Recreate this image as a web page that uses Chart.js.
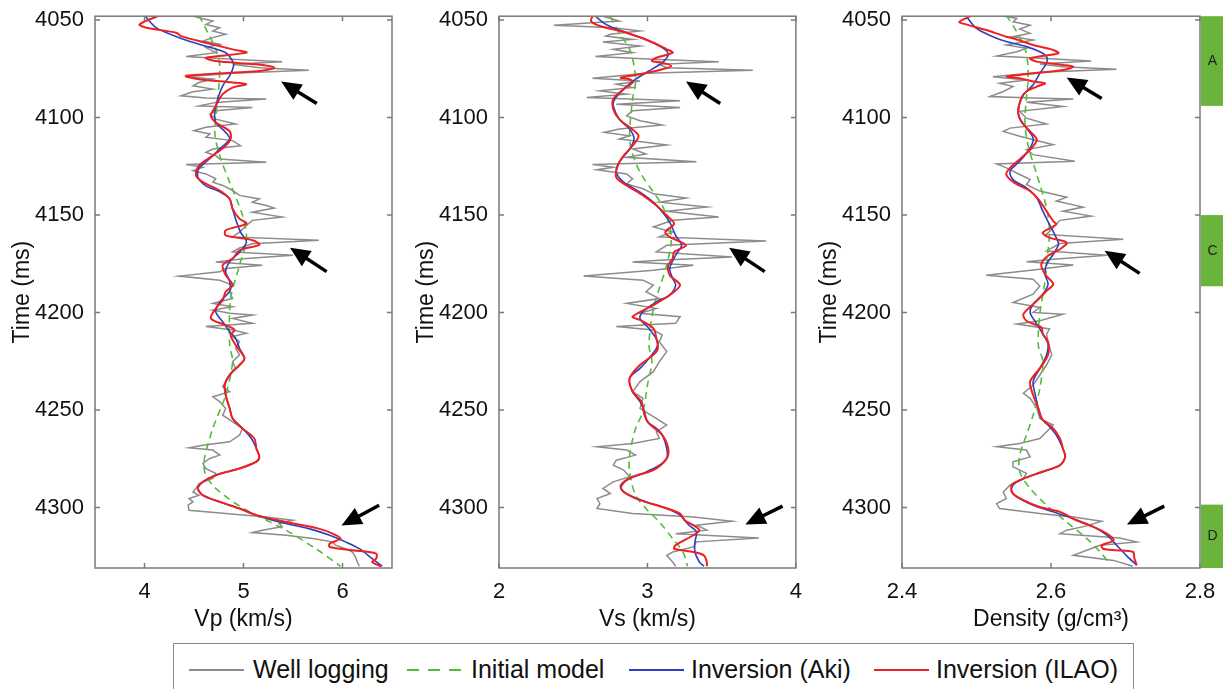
<!DOCTYPE html>
<html>
<head>
<meta charset="utf-8">
<script src="https://cdn.jsdelivr.net/npm/chart.js@4"></script>
<style>
  body { margin: 0; background: #fff; width: 1223px; height: 689px; overflow: hidden; position: relative;
         font-family: 'Liberation Sans', Arial, Helvetica, sans-serif; }
  .panel { position: absolute; top: 0; height: 640px; }
  #legend { position: absolute; left: 173px; top: 643px; width: 961px; height: 70px;
            border: 1.5px solid #8a8a8a; box-sizing: border-box; background: #fff; }
  #legend span { position: absolute; top: 13px; font-size: 25px; line-height: 25px; color: #111; white-space: nowrap; }
  #legend svg { position: absolute; left: 0; top: 0; }
</style>
</head>
<body>
<div class="panel" style="left:0;width:400px"><canvas id="vp"></canvas></div>
<div class="panel" style="left:404px;width:401px"><canvas id="vs"></canvas></div>
<div class="panel" style="left:807px;width:416px"><canvas id="rho"></canvas></div>

<div id="legend">
  <svg width="958" height="60">
    <line x1="15" y1="26" x2="70" y2="26" stroke="#8c8c8c" stroke-width="2"/>
    <line x1="233" y1="26" x2="289" y2="26" stroke="#52bd3a" stroke-width="2" stroke-dasharray="12,9"/>
    <line x1="455" y1="26" x2="510" y2="26" stroke="#2b3fc0" stroke-width="2"/>
    <line x1="700" y1="26" x2="755" y2="26" stroke="#ee2020" stroke-width="2"/>
  </svg>
  <span style="left:79px">Well logging</span>
  <span style="left:297px">Initial model</span>
  <span style="left:517px">Inversion (Aki)</span>
  <span style="left:762px">Inversion (ILAO)</span>
</div>

<script>
// ---- axes ----
const timeTicks = [4050, 4100, 4150, 4200, 4250, 4300];
const timeRange = [4048, 4331];
const vpTicks = [4, 5, 6];
const vpRange = [3.5, 6.5];
const vsTicks = [2, 3, 4];
const vsRange = [2, 4];
const rhoTicks = [2.4, 2.6, 2.8];
const rhoRange = [2.4, 2.8];

// ---- Vp (km/s) ----
const vpWellT = [4047.6,4048.8,4050.5,4052.2,4053.9,4055.6,4057.3,4059.0,4060.7,4062.4,
  4064.1,4066.7,4068.7,4070.1,4071.3,4072.7,4074.4,4075.7,4077.3,4079.0,
  4080.3,4082.0,4083.7,4085.4,4086.8,4088.8,4089.9,4090.5,4092.2,4094.0,
  4094.8,4096.5,4098.2,4100.8,4103.3,4105.0,4106.7,4108.4,4110.1,4111.8,
  4114.4,4116.1,4117.8,4119.5,4121.2,4122.9,4124.1,4125.5,4127.2,4128.9,
  4131.4,4133.1,4134.8,4137.4,4139.9,4141.7,4143.4,4145.1,4146.4,4148.5,
  4151.0,4152.7,4155.3,4158.7,4161.2,4162.9,4164.7,4166.9,4168.9,4170.6,
  4172.3,4174.0,4175.7,4177.4,4179.1,4181.3,4183.4,4185.9,4189.3,4192.8,
  4195.3,4197.0,4198.7,4200.4,4201.3,4203.0,4205.5,4207.2,4208.9,4210.6,
  4212.3,4214.9,4218.3,4221.7,4225.2,4228.6,4232.0,4235.4,4238.0,4240.6,
  4243.2,4245.7,4249.1,4252.6,4256.0,4259.4,4262.8,4266.3,4268.0,4269.3,
  4270.5,4273.1,4274.8,4277.4,4280.0,4282.5,4285.1,4287.7,4290.2,4292.0,
  4293.7,4295.4,4297.1,4298.8,4301.4,4303.1,4304.8,4306.5,4308.2,4309.9,
  4311.6,4312.8,4314.2,4315.9,4317.6,4319.3,4321.1,4322.8,4325.3,4327.9,
  4330.1];
const vpWell = [4.47,4.55,4.69,4.62,4.76,4.69,4.82,4.69,4.59,4.76,
  4.62,4.72,4.42,4.89,5.39,4.89,5.16,5.66,4.89,4.42,
  4.69,4.55,4.49,4.69,4.49,4.37,4.62,5.23,4.72,4.55,
  5.09,4.72,4.66,4.72,4.92,4.62,4.50,4.66,4.62,4.89,
  4.97,4.69,4.62,4.72,4.76,5.23,4.42,4.59,4.49,4.62,
  4.72,4.69,4.79,4.89,4.96,5.16,5.09,5.23,5.31,5.09,
  5.39,5.09,5.03,4.96,4.89,5.76,5.09,4.96,4.89,5.50,
  5.03,4.72,5.19,4.82,4.76,4.35,4.76,4.89,4.86,4.89,
  4.69,4.89,4.69,4.86,5.09,4.89,5.09,4.62,4.89,5.03,
  4.89,4.96,4.92,4.96,4.89,4.92,4.86,4.82,4.79,4.86,
  4.69,4.76,4.82,4.79,4.89,4.99,4.96,4.86,4.59,4.45,
  4.69,4.76,4.66,4.59,4.62,4.72,4.69,4.55,4.52,4.49,
  4.55,4.45,4.49,4.44,4.45,4.82,5.23,5.50,5.36,5.39,
  5.19,5.09,5.43,5.70,5.90,5.93,6.03,6.10,6.13,6.15,
  6.17];
const vpInitT = [4047.6,4056.5,4065.0,4073.5,4090.5,4107.6,4119.5,4133.1,4150.2,4162.1,4175.7,4192.8,
  4216.6,4225.2,4242.3,4259.4,4276.5,4283.4,4290.2,4300.5,4310.8,4321.1,4330.1];
const vpInit = [4.55,4.64,4.72,4.76,4.74,4.71,4.76,4.86,4.99,5.03,4.96,4.87,
  4.86,4.89,4.82,4.69,4.60,4.62,4.72,5.00,5.40,5.73,5.98];
const vpAkiT = [4047.6,4054.0,4059.0,4062.4,4066.7,4071.0,4073.5,4078.6,4083.7,4090.5,
  4097.0,4102.5,4107.6,4111.0,4116.0,4121.0,4126.0,4130.6,4135.0,4138.0,
  4141.7,4147.0,4152.0,4158.7,4163.8,4169.0,4174.0,4179.0,4184.0,4189.0,
  4194.5,4199.6,4204.7,4209.8,4213.2,4218.3,4223.5,4226.9,4232.0,4237.2,
  4242.3,4249.1,4254.3,4259.4,4264.6,4269.7,4274.0,4276.5,4280.0,4283.4,
  4286.8,4290.2,4293.7,4297.1,4300.5,4303.9,4307.4,4310.8,4314.2,4317.6,
  4321.1,4326.2,4330.1];
const vpAki = [4.00,4.12,4.35,4.55,4.82,4.89,4.90,4.86,4.79,4.74,
  4.71,4.72,4.82,4.86,4.76,4.66,4.55,4.54,4.62,4.76,
  4.86,4.89,4.92,4.97,5.03,4.96,4.86,4.82,4.86,4.86,
  4.76,4.72,4.79,4.86,4.92,4.96,5.01,4.96,4.86,4.81,
  4.82,4.86,4.89,4.99,5.08,5.13,5.16,5.13,4.96,4.72,
  4.59,4.54,4.59,4.76,4.96,5.13,5.36,5.66,5.87,6.03,
  6.17,6.30,6.40];
const vpIlaoT = [4047.6,4052.2,4053.9,4056.5,4058.2,4061.6,4065.0,4066.7,4069.3,4071.0,
  4072.7,4074.4,4076.1,4078.6,4080.3,4082.0,4082.9,4084.6,4088.0,4094.0,
  4099.1,4102.5,4107.0,4111.0,4114.4,4119.5,4124.6,4129.7,4133.1,4137.4,
  4141.7,4146.8,4151.9,4154.4,4157.8,4160.4,4162.9,4165.2,4168.1,4172.3,
  4175.7,4180.8,4185.9,4189.3,4193.6,4197.9,4203.0,4206.4,4208.9,4211.5,
  4216.6,4223.5,4226.9,4232.0,4237.2,4242.3,4249.1,4254.3,4259.4,4264.6,
  4269.7,4274.0,4276.5,4280.0,4283.4,4286.8,4290.2,4293.7,4297.1,4300.5,
  4303.9,4307.4,4310.8,4313.4,4315.9,4318.5,4320.2,4321.9,4323.6,4326.2,
  4327.9,4330.1];
const vpIlao = [4.15,3.95,4.02,4.32,4.37,4.62,4.89,5.03,4.62,4.72,
  5.13,5.31,5.16,4.42,4.55,4.89,5.03,4.89,4.79,4.72,
  4.67,4.72,4.86,4.87,4.82,4.69,4.55,4.52,4.59,4.76,
  4.86,4.89,4.96,5.03,4.82,4.82,5.09,5.16,4.96,4.89,
  4.79,4.82,4.89,4.82,4.79,4.72,4.67,4.82,4.91,4.87,
  4.92,5.01,4.96,4.86,4.81,4.82,4.86,4.89,4.99,5.11,
  5.13,5.16,5.13,4.96,4.72,4.59,4.54,4.59,4.76,4.96,
  5.13,5.43,5.76,5.90,5.98,5.87,5.87,6.10,6.34,6.34,
  6.30,6.39];

// ---- Vs (km/s) ----
const vsWellT = [4048.0,4050.5,4052.7,4053.9,4055.6,4057.3,4058.2,4059.9,4061.2,4063.3,
  4065.0,4066.7,4068.7,4070.1,4071.3,4072.7,4074.4,4075.7,4077.3,4079.8,
  4081.2,4082.9,4084.6,4086.3,4088.0,4089.7,4091.4,4093.1,4094.8,4096.5,
  4099.1,4101.6,4103.8,4105.9,4107.6,4109.3,4111.0,4114.1,4116.1,4118.7,
  4120.4,4122.6,4124.1,4125.5,4126.7,4128.9,4131.4,4134.0,4136.5,4139.1,
  4141.3,4143.4,4145.9,4148.0,4151.0,4152.7,4156.1,4158.7,4161.2,4163.3,
  4165.5,4168.9,4171.5,4173.2,4174.0,4175.7,4178.3,4181.3,4183.4,4185.9,
  4189.3,4192.8,4195.3,4197.9,4200.4,4202.1,4205.5,4207.2,4208.9,4211.5,
  4214.9,4220.0,4225.2,4230.3,4235.4,4240.6,4244.0,4249.1,4253.4,4257.7,
  4261.1,4264.6,4267.1,4268.8,4270.5,4273.1,4275.7,4278.3,4280.8,4284.2,
  4286.8,4290.2,4292.8,4295.4,4298.0,4300.5,4303.1,4304.8,4307.0,4309.1,
  4311.6,4313.4,4315.6,4317.6,4320.2,4322.8,4324.5,4327.9,4330.1];
const vsWell = [2.70,2.81,2.37,2.77,2.95,2.75,2.72,2.90,2.70,2.95,
  2.77,2.90,2.65,3.04,3.48,3.08,3.13,3.71,2.99,2.63,
  2.95,2.79,2.90,2.68,2.86,2.59,3.22,2.79,3.22,2.90,
  2.86,2.95,3.10,2.81,2.71,2.88,2.81,3.13,2.90,2.99,
  2.86,3.33,2.63,2.77,2.66,2.86,2.90,2.86,2.97,3.04,
  3.26,3.08,3.40,3.13,3.48,3.17,3.04,3.17,3.08,3.80,
  3.13,3.06,3.57,3.08,2.90,3.31,3.04,2.57,2.97,3.04,
  2.99,3.08,2.86,3.06,2.95,3.22,3.19,2.79,3.04,3.10,
  3.08,3.13,3.08,3.04,2.95,2.90,2.97,2.95,3.04,3.13,
  3.06,3.08,2.90,2.66,2.86,2.92,2.79,2.77,2.84,2.88,
  2.77,2.70,2.75,2.66,2.68,2.66,2.90,3.31,3.57,3.33,
  3.40,3.19,3.75,3.33,3.31,3.17,3.13,3.17,3.19];
const vsInitT = [4048.0,4056.5,4065.0,4073.5,4082.0,4090.5,4107.6,4116.1,4128.0,4138.2,
  4145.1,4155.3,4163.8,4175.7,4187.6,4197.9,4216.6,4225.2,4237.2,4250.9,
  4259.4,4273.1,4281.7,4293.7,4300.5,4307.4,4315.9,4322.8,4330.1];
const vsInit = [2.75,2.81,2.88,2.91,2.92,2.90,2.88,2.89,2.95,3.04,
  3.10,3.15,3.16,3.13,3.08,3.04,3.01,3.03,3.00,2.97,
  2.92,2.88,2.88,2.92,2.99,3.08,3.17,3.24,3.27];
const vsAkiT = [4048.0,4052.2,4056.5,4059.9,4064.1,4067.5,4071.8,4076.1,4080.3,4085.4,
  4090.5,4094.0,4100.8,4105.9,4111.0,4116.1,4122.9,4128.0,4133.1,4138.2,
  4143.4,4148.5,4153.6,4160.4,4165.5,4170.6,4177.4,4182.5,4185.9,4191.0,
  4194.5,4199.6,4203.0,4208.1,4214.9,4218.3,4223.5,4228.6,4233.7,4240.6,
  4245.7,4250.9,4256.0,4259.4,4262.8,4269.7,4274.8,4278.3,4282.5,4286.0,
  4290.2,4293.7,4297.1,4300.5,4303.9,4309.1,4312.5,4317.6,4322.8,4327.9,
  4330.1];
const vsAki = [2.65,2.72,2.86,2.99,3.10,3.14,3.10,3.01,2.92,2.84,
  2.78,2.77,2.81,2.88,2.91,2.88,2.81,2.79,2.84,2.95,
  3.04,3.10,3.15,3.19,3.23,3.19,3.15,3.17,3.19,3.15,
  3.06,2.97,2.95,3.01,3.07,3.06,3.01,2.95,2.88,2.90,
  2.95,2.98,3.00,3.06,3.10,3.13,3.13,3.08,2.97,2.86,
  2.82,2.88,2.99,3.13,3.22,3.28,3.33,3.32,3.32,3.35,
  3.38];
const vsIlaoT = [4048.0,4050.5,4053.0,4056.5,4061.6,4065.0,4066.7,4069.3,4071.0,4071.8,
  4073.5,4075.2,4077.8,4079.5,4080.3,4082.0,4085.4,4090.5,4095.7,4100.8,
  4105.0,4109.3,4114.4,4119.5,4124.6,4130.6,4134.8,4139.9,4145.1,4150.2,
  4154.4,4158.7,4161.2,4165.5,4168.9,4172.3,4175.7,4180.8,4185.9,4191.0,
  4196.2,4202.1,4203.8,4208.1,4213.2,4218.3,4221.7,4226.9,4233.7,4240.6,
  4245.7,4252.6,4256.8,4262.8,4269.7,4274.8,4280.8,4284.2,4288.5,4292.0,
  4296.2,4299.7,4303.1,4306.5,4309.1,4311.6,4314.2,4319.3,4321.1,4322.8,
  4324.5,4327.9,4330.1];
const vsIlao = [2.63,2.62,2.68,2.86,3.04,3.13,3.17,3.06,3.03,3.10,
  3.16,3.10,2.95,2.82,2.88,2.90,2.84,2.77,2.77,2.81,
  2.88,2.94,2.90,2.84,2.80,2.79,2.86,2.97,3.06,3.13,
  3.18,3.12,3.15,3.26,3.18,3.17,3.14,3.15,3.22,3.15,
  3.04,2.90,2.95,3.04,3.06,3.07,3.04,2.95,2.88,2.90,
  2.96,2.98,3.01,3.10,3.14,3.13,3.04,2.90,2.82,2.84,
  2.95,3.10,3.22,3.25,3.31,3.35,3.31,3.19,3.18,3.31,
  3.38,3.40,3.40];

// ---- Density (g/cm3) ----
const rhoWellT = [4047.5,4049.2,4050.9,4052.6,4054.6,4056.8,4058.5,4060.2,4062.8,4064.5,
  4066.2,4068.4,4069.6,4071.0,4072.5,4073.9,4075.2,4076.7,4079.0,4080.7,
  4082.4,4084.1,4086.6,4089.2,4090.0,4090.5,4092.1,4094.3,4096.8,4100.3,
  4103.3,4105.4,4107.1,4109.6,4113.9,4116.4,4119.0,4122.4,4123.8,4125.8,
  4128.4,4131.8,4134.3,4137.7,4140.8,4142.8,4145.9,4148.0,4150.5,4152.7,
  4156.5,4159.9,4162.4,4164.6,4168.4,4170.6,4172.7,4173.9,4175.6,4177.8,
  4180.8,4182.9,4186.4,4190.6,4194.8,4197.4,4199.9,4200.8,4204.2,4205.9,
  4208.4,4211.0,4214.9,4221.7,4226.9,4232.0,4237.2,4241.4,4244.0,4249.1,
  4254.3,4257.7,4261.1,4264.6,4267.1,4268.8,4270.5,4274.0,4276.5,4279.1,
  4282.5,4285.1,4288.5,4292.0,4295.4,4298.0,4300.5,4303.1,4304.8,4307.0,
  4309.4,4311.6,4313.4,4315.6,4317.6,4319.3,4321.9,4324.5,4327.1,4330.1];
const rhoWell = [2.531,2.554,2.549,2.572,2.558,2.572,2.549,2.576,2.540,2.567,
  2.554,2.527,2.585,2.654,2.585,2.616,2.688,2.585,2.522,2.567,
  2.531,2.549,2.536,2.518,2.576,2.630,2.567,2.616,2.558,2.567,
  2.594,2.545,2.536,2.558,2.603,2.567,2.576,2.632,2.527,2.540,
  2.554,2.572,2.567,2.585,2.621,2.607,2.643,2.616,2.654,2.612,
  2.603,2.594,2.697,2.612,2.594,2.675,2.603,2.567,2.630,2.585,
  2.513,2.576,2.585,2.576,2.549,2.585,2.576,2.616,2.585,2.554,
  2.598,2.594,2.596,2.601,2.594,2.585,2.576,2.563,2.572,2.581,
  2.585,2.603,2.594,2.585,2.558,2.527,2.567,2.572,2.549,2.549,
  2.567,2.563,2.545,2.536,2.540,2.527,2.531,2.585,2.630,2.668,
  2.648,2.621,2.612,2.692,2.715,2.666,2.648,2.630,2.684,2.710];
const rhoInitT = [4047.5,4056.0,4064.5,4073.0,4082.0,4090.0,4102.0,4114.0,4129.2,4146.3,
  4158.2,4168.4,4183.7,4200.8,4216.6,4225.2,4238.9,4252.6,4262.8,4273.1,
  4281.7,4290.2,4298.8,4307.4,4315.9,4322.8,4328.8];
const rhoInit = [2.540,2.554,2.565,2.569,2.569,2.567,2.565,2.569,2.581,2.594,
  2.598,2.596,2.592,2.585,2.583,2.589,2.585,2.576,2.567,2.558,
  2.558,2.572,2.594,2.621,2.648,2.666,2.679];
const rhoAkiT = [4047.5,4054.3,4058.5,4061.0,4063.6,4066.2,4068.7,4072.0,4077.3,4083.2,
  4088.3,4095.1,4100.3,4105.4,4110.5,4115.6,4122.4,4127.5,4131.8,4136.0,
  4141.2,4148.0,4154.8,4161.6,4165.0,4170.1,4175.2,4180.3,4185.4,4190.6,
  4195.7,4200.0,4205.9,4211.0,4216.1,4221.7,4228.6,4235.4,4242.3,4249.1,
  4254.3,4257.7,4262.8,4268.0,4274.0,4278.3,4281.7,4285.1,4288.5,4292.0,
  4295.4,4298.8,4302.2,4305.7,4309.9,4314.2,4319.3,4324.5,4329.6];
const rhoAki = [2.485,2.500,2.522,2.540,2.567,2.585,2.594,2.594,2.585,2.576,
  2.563,2.556,2.558,2.567,2.576,2.572,2.558,2.545,2.549,2.567,
  2.581,2.589,2.598,2.607,2.610,2.603,2.594,2.592,2.596,2.589,
  2.576,2.572,2.581,2.589,2.596,2.594,2.585,2.576,2.579,2.583,
  2.587,2.596,2.607,2.614,2.619,2.612,2.589,2.563,2.549,2.547,
  2.558,2.576,2.603,2.630,2.657,2.675,2.688,2.701,2.715];
const rhoIlaoT = [4047.5,4050.9,4052.2,4055.1,4058.5,4059.3,4062.8,4065.3,4067.0,4069.6,
  4071.3,4073.0,4073.9,4075.6,4078.1,4079.0,4079.8,4081.5,4082.4,4084.1,
  4086.6,4090.0,4097.7,4102.0,4107.1,4111.3,4115.6,4120.7,4125.8,4129.2,
  4133.5,4137.7,4142.8,4148.0,4153.1,4154.8,4159.0,4161.6,4164.1,4167.5,
  4170.9,4175.2,4180.3,4185.4,4188.8,4194.0,4200.8,4204.2,4207.6,4211.0,
  4214.9,4221.7,4228.6,4235.4,4242.3,4249.1,4255.1,4259.4,4264.6,4269.7,
  4274.0,4278.3,4282.0,4286.0,4288.5,4292.8,4296.2,4299.7,4302.2,4303.9,
  4306.5,4309.9,4313.4,4316.8,4319.3,4321.1,4321.9,4322.8,4326.2,4329.6];
const rhoIlao = [2.495,2.477,2.486,2.513,2.540,2.549,2.576,2.603,2.610,2.572,
  2.581,2.616,2.630,2.616,2.558,2.540,2.558,2.576,2.592,2.581,
  2.567,2.560,2.556,2.560,2.572,2.581,2.574,2.560,2.545,2.540,
  2.551,2.572,2.585,2.594,2.603,2.607,2.589,2.598,2.621,2.612,
  2.596,2.587,2.592,2.603,2.594,2.581,2.563,2.567,2.587,2.589,
  2.596,2.596,2.585,2.572,2.576,2.583,2.589,2.603,2.612,2.616,
  2.619,2.612,2.585,2.558,2.547,2.549,2.563,2.585,2.612,2.621,
  2.634,2.657,2.675,2.684,2.668,2.670,2.688,2.710,2.712,2.715];

// ---- annotations: arrows (tail -> head, in data units) and the zones ----
const vpArrowFrom = [[5.74, 4092.8], [5.84, 4179.0], [6.37, 4298.8]];
const vpArrowTo   = [[5.38, 4081.5], [5.47, 4166.7], [5.99, 4309.2]];
const vsArrowFrom = [[3.49, 4092.8], [3.79, 4179.0], [3.91, 4299.3]];
const vsArrowTo   = [[3.26, 4081.5], [3.55, 4166.8], [3.66, 4308.7]];
const rhoArrowFrom = [[2.668, 4090.2], [2.719, 4179.9], [2.752, 4299.3]];
const rhoArrowTo   = [[2.621, 4079.4], [2.672, 4168.3], [2.702, 4308.7]];
const zoneLabels = ['A', 'C', 'D'];
const zoneStart = [4048, 4150, 4298.5];
const zoneEnd = [4094, 4186.5, 4331];

const FONT = "'Liberation Sans', Arial, Helvetica, sans-serif";
const INK = '#111';

function points(t, v) {
  const n = Math.min(t.length, v.length);
  const out = [];
  for (let i = 0; i < n; i++) out.push({ x: v[i], y: t[i] });
  return out;
}

const framePlugin = {
  id: 'frame',
  afterDatasetsDraw(chart) {
    const { ctx, chartArea: a, scales: { x, y } } = chart;
    ctx.save();
    ctx.strokeStyle = '#7a7a7a';
    ctx.lineWidth = 1.5;
    ctx.strokeRect(a.left, a.top, a.right - a.left, a.bottom - a.top);
    ctx.beginPath();
    x.ticks.forEach(t => {
      const px = x.getPixelForValue(t.value);
      ctx.moveTo(px, a.bottom); ctx.lineTo(px, a.bottom - 5);
      ctx.moveTo(px, a.top); ctx.lineTo(px, a.top + 5);
    });
    y.ticks.forEach(t => {
      const py = y.getPixelForValue(t.value);
      ctx.moveTo(a.left, py); ctx.lineTo(a.left + 5, py);
      ctx.moveTo(a.right, py); ctx.lineTo(a.right - 5, py);
    });
    ctx.stroke();
    ctx.restore();
  }
};

function arrowPlugin(from, to) {
  return {
    id: 'arrows',
    afterDraw(chart) {
      const { ctx, scales: { x, y } } = chart;
      ctx.save();
      ctx.fillStyle = '#000';
      ctx.strokeStyle = '#000';
      ctx.lineWidth = 3.5;
      for (let i = 0; i < from.length; i++) {
        const x0 = x.getPixelForValue(from[i][0]), y0 = y.getPixelForValue(from[i][1]);
        const x1 = x.getPixelForValue(to[i][0]), y1 = y.getPixelForValue(to[i][1]);
        const ang = Math.atan2(y1 - y0, x1 - x0);
        const head = 20, half = 9;
        const bx = x1 - head * Math.cos(ang), by = y1 - head * Math.sin(ang);
        ctx.beginPath();
        ctx.moveTo(x0, y0);
        ctx.lineTo(bx + 2 * Math.cos(ang), by + 2 * Math.sin(ang));
        ctx.stroke();
        ctx.beginPath();
        ctx.moveTo(x1, y1);
        ctx.lineTo(bx + half * Math.sin(ang), by - half * Math.cos(ang));
        ctx.lineTo(bx - half * Math.sin(ang), by + half * Math.cos(ang));
        ctx.closePath();
        ctx.fill();
      }
      ctx.restore();
    }
  };
}

const zonePlugin = {
  id: 'zones',
  afterDraw(chart) {
    const { ctx, chartArea: a, scales: { y } } = chart;
    ctx.save();
    for (let i = 0; i < zoneLabels.length; i++) {
      const y0 = Math.max(a.top, y.getPixelForValue(zoneStart[i]));
      const y1 = Math.min(a.bottom, y.getPixelForValue(zoneEnd[i]));
      ctx.fillStyle = '#6ab43c';
      ctx.fillRect(a.right + 1, y0, chart.width - a.right - 1, y1 - y0);
      ctx.fillStyle = '#222';
      ctx.font = '14px ' + FONT;
      ctx.textAlign = 'center';
      ctx.textBaseline = 'middle';
      ctx.fillText(zoneLabels[i], (a.right + chart.width) / 2 + 1, (y0 + y1) / 2);
    }
    ctx.restore();
  }
};

function makePanel(id, opt) {
  const datasets = [
    { data: points(opt.ilaoT, opt.ilao), borderColor: '#ee2020', borderWidth: 2, tension: 0.3, order: 0 },
    { data: points(opt.akiT, opt.aki), borderColor: '#2b3fc0', borderWidth: 1.6, tension: 0.3, order: 1 },
    { data: points(opt.initT, opt.init), borderColor: '#52bd3a', borderWidth: 1.6, borderDash: [7, 5], tension: 0.3, order: 2 },
    { data: points(opt.wellT, opt.well), borderColor: '#8c8c8c', borderWidth: 1.5, tension: 0, order: 3 }
  ].map(d => Object.assign({ showLine: true, pointRadius: 0, fill: false }, d));

  return new Chart(document.getElementById(id), {
    type: 'scatter',
    data: { datasets },
    options: {
      responsive: true,
      maintainAspectRatio: false,
      animation: false,
      layout: { padding: { top: 16, right: opt.padRight, left: 0, bottom: 0 } },
      plugins: { legend: { display: false }, tooltip: { enabled: false } },
      scales: {
        x: {
          type: 'linear', position: 'bottom',
          min: opt.range[0], max: opt.range[1],
          afterBuildTicks: s => { s.ticks = opt.ticks.map(v => ({ value: v })); },
          afterFit: s => { s.height = 72; },
          grid: { display: false }, border: { display: false },
          ticks: { padding: 3, color: INK, font: { family: FONT, size: 22 }, callback: v => String(v) },
          title: { display: true, text: opt.title, color: INK, font: { family: FONT, size: 23 }, padding: { top: 0, bottom: 7 } }
        },
        y: {
          type: 'linear', position: 'left', reverse: true,
          min: timeRange[0], max: timeRange[1],
          afterBuildTicks: s => { s.ticks = timeTicks.map(v => ({ value: v })); },
          afterFit: s => { s.width = 95; },
          grid: { display: false }, border: { display: false },
          ticks: { padding: 3, color: INK, font: { family: FONT, size: 22 }, callback: v => String(v) },
          title: { display: true, text: 'Time (ms)', color: INK, font: { family: FONT, size: 23 }, padding: { top: 9, bottom: 0 } }
        }
      }
    },
    plugins: [framePlugin, arrowPlugin(opt.arrowFrom, opt.arrowTo)].concat(opt.extra || [])
  });
}

makePanel('vp', {
  wellT: vpWellT, well: vpWell, initT: vpInitT, init: vpInit, akiT: vpAkiT, aki: vpAki, ilaoT: vpIlaoT, ilao: vpIlao,
  ticks: vpTicks, range: vpRange, title: 'Vp (km/s)', padRight: 8, arrowFrom: vpArrowFrom, arrowTo: vpArrowTo
});
makePanel('vs', {
  wellT: vsWellT, well: vsWell, initT: vsInitT, init: vsInit, akiT: vsAkiT, aki: vsAki, ilaoT: vsIlaoT, ilao: vsIlao,
  ticks: vsTicks, range: vsRange, title: 'Vs (km/s)', padRight: 8, arrowFrom: vsArrowFrom, arrowTo: vsArrowTo
});
makePanel('rho', {
  wellT: rhoWellT, well: rhoWell, initT: rhoInitT, init: rhoInit, akiT: rhoAkiT, aki: rhoAki, ilaoT: rhoIlaoT, ilao: rhoIlao,
  ticks: rhoTicks, range: rhoRange, title: 'Density (g/cm³)', padRight: 23, arrowFrom: rhoArrowFrom, arrowTo: rhoArrowTo,
  extra: [zonePlugin]
});
</script>
</body>
</html>
